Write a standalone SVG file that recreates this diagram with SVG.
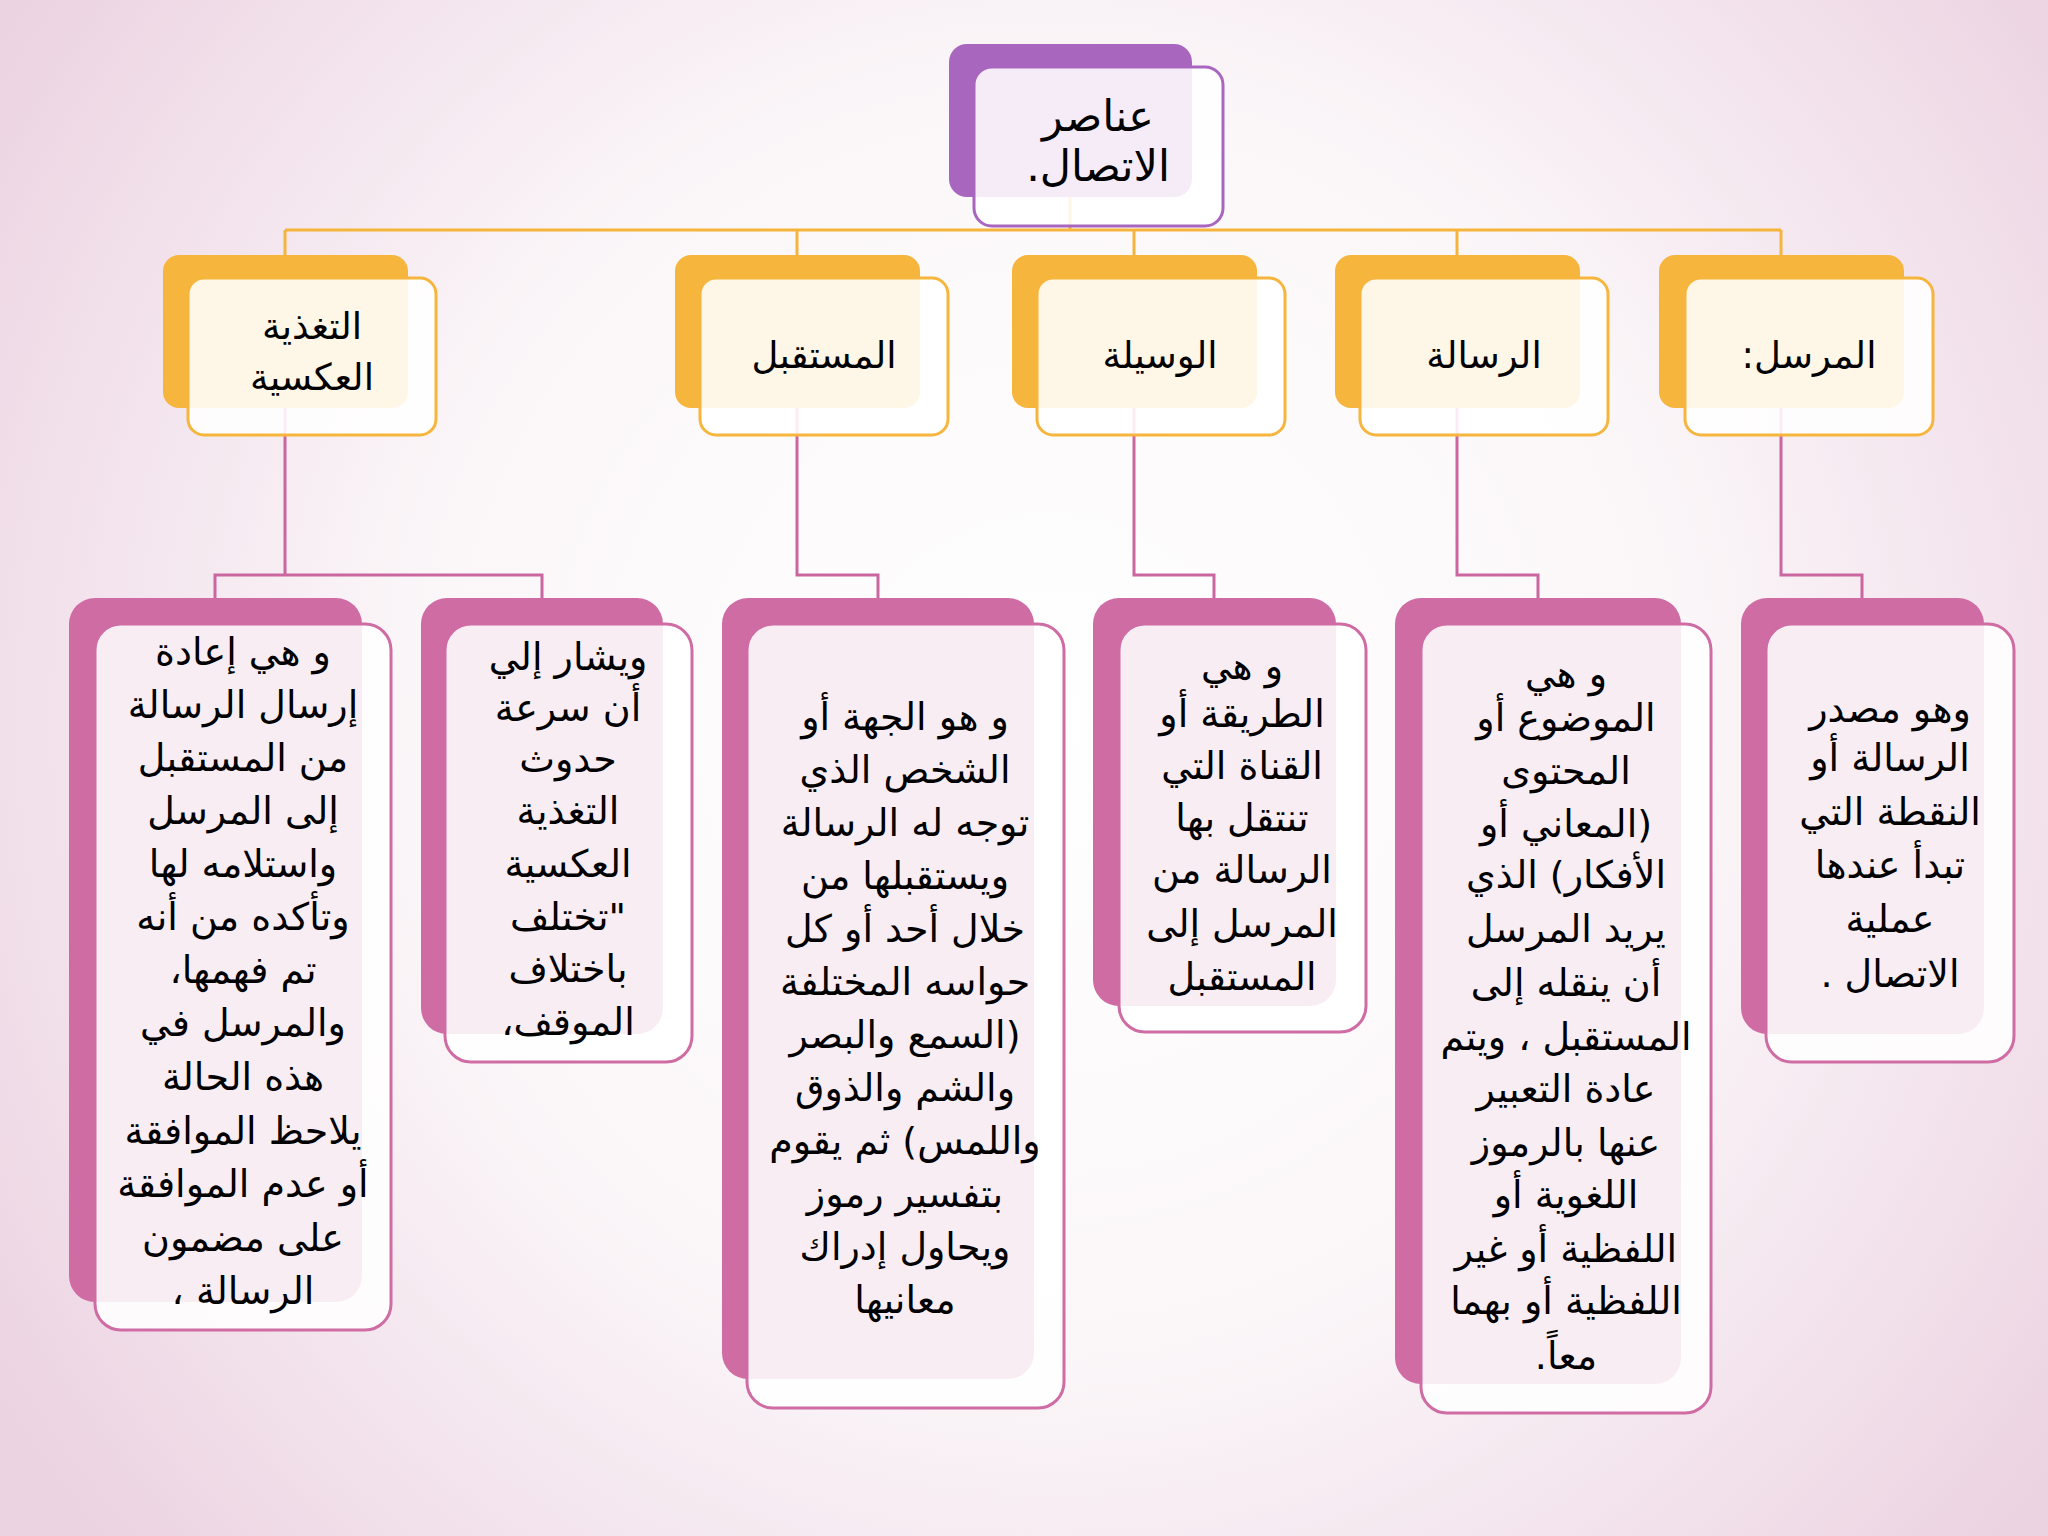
<svg xmlns="http://www.w3.org/2000/svg" width="2048" height="1536" viewBox="0 0 2048 1536">
<defs>
<radialGradient id="bg" cx="1050" cy="720" r="1250" gradientUnits="userSpaceOnUse">
<stop offset="0" stop-color="#ffffff"/>
<stop offset="0.5" stop-color="#fbf7f9"/>
<stop offset="1" stop-color="#ecd3e2"/>
</radialGradient>
<style>
.bP{fill:#a866bf}
.fP{fill:#ffffff;fill-opacity:.88;stroke:#a866bf;stroke-width:3}
.bO{fill:#f6b53d}
.fO{fill:#ffffff;fill-opacity:.88;stroke:#f6b53d;stroke-width:3}
.bK{fill:#cf6ca4}
.fK{fill:#ffffff;fill-opacity:.88;stroke:#cf6ca4;stroke-width:3}
.co{fill:none;stroke:#f5b43c;stroke-width:3}
.ck{fill:none;stroke:#cb67a0;stroke-width:3}
text{font-family:'DejaVu Sans',sans-serif;fill:#000;text-anchor:middle;direction:rtl}
.t{font-size:43px}
.h{font-size:37px}
.d{font-size:38px}
</style>
</defs>
<rect width="2048" height="1536" fill="url(#bg)"/>
<g id="connectors">
<path class="co" d="M1070,197V230M285,230H1781M285,230V260M797,230V260M1134,230V260M1457,230V260M1781,230V260"/>
<path class="ck" d="M285,400V575M215,598V575H542V598"/>
<path class="ck" d="M797,400V575H878V598"/>
<path class="ck" d="M1134,400V575H1214V598"/>
<path class="ck" d="M1457,400V575H1538V598"/>
<path class="ck" d="M1781,400V575H1862V598"/>
</g>
<g id="title">
<rect class="bP" x="949" y="44" width="243" height="153" rx="18"/>
<rect class="fP" x="974" y="67" width="249" height="159" rx="18"/>
<text class="t" direction="rtl" x="1098" y="131">عناصر</text>
<text class="t" direction="rtl" x="1098" y="181">الاتصال.</text>
</g>
<g id="n-feedback">
<rect class="bO" x="163" y="255" width="245" height="153" rx="16"/>
<rect class="fO" x="188" y="278" width="248" height="157" rx="16"/>
<text class="h" direction="rtl" x="312" y="339">التغذية</text>
<text class="h" direction="rtl" x="312" y="390">العكسية</text>
</g>
<g id="n-receiver">
<rect class="bO" x="675" y="255" width="245" height="153" rx="16"/>
<rect class="fO" x="700" y="278" width="248" height="157" rx="16"/>
<text class="h" direction="rtl" x="824" y="368">المستقبل</text>
</g>
<g id="n-medium">
<rect class="bO" x="1012" y="255" width="245" height="153" rx="16"/>
<rect class="fO" x="1037" y="278" width="248" height="157" rx="16"/>
<text class="h" direction="rtl" x="1160" y="368">الوسيلة</text>
</g>
<g id="n-message">
<rect class="bO" x="1335" y="255" width="245" height="153" rx="16"/>
<rect class="fO" x="1360" y="278" width="248" height="157" rx="16"/>
<text class="h" direction="rtl" x="1484" y="368">الرسالة</text>
</g>
<g id="n-sender">
<rect class="bO" x="1659" y="255" width="245" height="153" rx="16"/>
<rect class="fO" x="1685" y="278" width="248" height="157" rx="16"/>
<text class="h" direction="rtl" x="1809" y="368">المرسل:</text>
</g>
<g id="d-feedback1">
<rect class="bK" x="69" y="598" width="293" height="704" rx="26"/>
<rect class="fK" x="95" y="624" width="296" height="706" rx="26"/>
<text class="d" direction="rtl" x="243" y="665">و هي إعادة</text>
<text class="d" direction="rtl" x="243" y="718">إرسال الرسالة</text>
<text class="d" direction="rtl" x="243" y="771">من المستقبل</text>
<text class="d" direction="rtl" x="243" y="824">إلى المرسل</text>
<text class="d" direction="rtl" x="243" y="877">واستلامه لها</text>
<text class="d" direction="rtl" x="243" y="930">وتأكده من أنه</text>
<text class="d" direction="rtl" x="243" y="983">تم فهمها،</text>
<text class="d" direction="rtl" x="243" y="1036">والمرسل في</text>
<text class="d" direction="rtl" x="243" y="1090">هذه الحالة</text>
<text class="d" direction="rtl" x="243" y="1144">يلاحظ الموافقة</text>
<text class="d" direction="rtl" x="243" y="1197">أو عدم الموافقة</text>
<text class="d" direction="rtl" x="243" y="1251">على مضمون</text>
<text class="d" direction="rtl" x="243" y="1304">الرسالة ،</text>
</g>
<g id="d-feedback2">
<rect class="bK" x="421" y="598" width="242" height="436" rx="26"/>
<rect class="fK" x="445" y="624" width="247" height="438" rx="26"/>
<text class="d" direction="rtl" x="568" y="670">ويشار إلي</text>
<text class="d" direction="rtl" x="568" y="721">أن سرعة</text>
<text class="d" direction="rtl" x="568" y="772">حدوث</text>
<text class="d" direction="rtl" x="568" y="824">التغذية</text>
<text class="d" direction="rtl" x="568" y="877">العكسية</text>
<text class="d" direction="rtl" x="568" y="930">"تختلف</text>
<text class="d" direction="rtl" x="568" y="982">باختلاف</text>
<text class="d" direction="rtl" x="568" y="1035">الموقف،</text>
</g>
<g id="d-receiver">
<rect class="bK" x="722" y="598" width="312" height="781" rx="26"/>
<rect class="fK" x="747" y="624" width="317" height="784" rx="26"/>
<text class="d" direction="rtl" x="905" y="730">و هو الجهة أو</text>
<text class="d" direction="rtl" x="905" y="783">الشخص الذي</text>
<text class="d" direction="rtl" x="905" y="836">توجه له الرسالة</text>
<text class="d" direction="rtl" x="905" y="889">ويستقبلها من</text>
<text class="d" direction="rtl" x="905" y="942">خلال أحد أو كل</text>
<text class="d" direction="rtl" x="905" y="995">حواسه المختلفة</text>
<text class="d" direction="rtl" x="905" y="1048">(السمع والبصر</text>
<text class="d" direction="rtl" x="905" y="1101">والشم والذوق</text>
<text class="d" direction="rtl" x="905" y="1154">واللمس) ثم يقوم</text>
<text class="d" direction="rtl" x="905" y="1207">بتفسير رموز</text>
<text class="d" direction="rtl" x="905" y="1260">ويحاول إدراك</text>
<text class="d" direction="rtl" x="905" y="1313">معانيها</text>
</g>
<g id="d-medium">
<rect class="bK" x="1093" y="598" width="243" height="408" rx="26"/>
<rect class="fK" x="1119" y="624" width="247" height="408" rx="26"/>
<text class="d" direction="rtl" x="1242" y="679">و هي</text>
<text class="d" direction="rtl" x="1242" y="727">الطريقة أو</text>
<text class="d" direction="rtl" x="1242" y="779">القناة التي</text>
<text class="d" direction="rtl" x="1242" y="831">تنتقل بها</text>
<text class="d" direction="rtl" x="1242" y="883">الرسالة من</text>
<text class="d" direction="rtl" x="1242" y="937">المرسل إلى</text>
<text class="d" direction="rtl" x="1242" y="990">المستقبل</text>
</g>
<g id="d-message">
<rect class="bK" x="1395" y="598" width="286" height="786" rx="26"/>
<rect class="fK" x="1421" y="624" width="290" height="789" rx="26"/>
<text class="d" direction="rtl" x="1566" y="687">و هي</text>
<text class="d" direction="rtl" x="1566" y="731">الموضوع أو</text>
<text class="d" direction="rtl" x="1566" y="784">المحتوى</text>
<text class="d" direction="rtl" x="1566" y="837">(المعاني أو</text>
<text class="d" direction="rtl" x="1566" y="888">الأفكار) الذي</text>
<text class="d" direction="rtl" x="1566" y="942">يريد المرسل</text>
<text class="d" direction="rtl" x="1566" y="996">أن ينقله إلى</text>
<text class="d" direction="rtl" x="1566" y="1050">المستقبل ، ويتم</text>
<text class="d" direction="rtl" x="1566" y="1102">عادة التعبير</text>
<text class="d" direction="rtl" x="1566" y="1156">عنها بالرموز</text>
<text class="d" direction="rtl" x="1566" y="1208">اللغوية أو</text>
<text class="d" direction="rtl" x="1566" y="1262">اللفظية أو غير</text>
<text class="d" direction="rtl" x="1566" y="1314">اللفظية أو بهما</text>
<text class="d" direction="rtl" x="1566" y="1369">معاً.</text>
</g>
<g id="d-sender">
<rect class="bK" x="1741" y="598" width="243" height="436" rx="26"/>
<rect class="fK" x="1766" y="624" width="248" height="438" rx="26"/>
<text class="d" direction="rtl" x="1890" y="722">وهو مصدر</text>
<text class="d" direction="rtl" x="1890" y="771">الرسالة أو</text>
<text class="d" direction="rtl" x="1890" y="825">النقطة التي</text>
<text class="d" direction="rtl" x="1890" y="878">تبدأ عندها</text>
<text class="d" direction="rtl" x="1890" y="932">عملية</text>
<text class="d" direction="rtl" x="1890" y="987">الاتصال .</text>
</g>
</svg>
